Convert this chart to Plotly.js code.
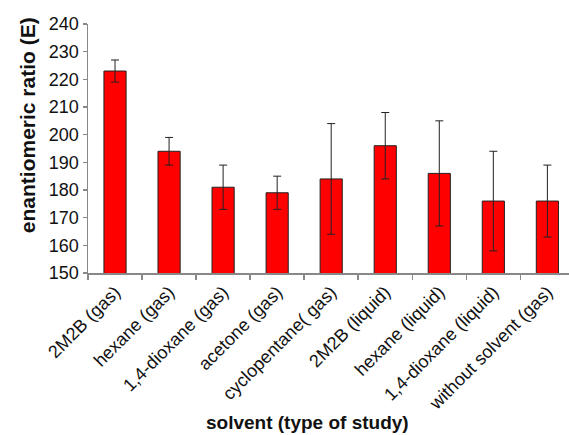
<!DOCTYPE html>
<html>
<head>
<meta charset="utf-8">
<script src="https://cdn.plot.ly/plotly-3.0.1.min.js"></script>
<style>html,body{margin:0;padding:0;background:#fff;}#chart{width:569px;height:435px;}</style>
</head>
<body>
<div id="chart"></div>
<script>
const categories = ["2M2B (gas)", "hexane (gas)", "1,4-dioxane (gas)", "acetone (gas)", "cyclopentane( gas)", "2M2B (liquid)", "hexane (liquid)", "1,4-dioxane (liquid)", "without solvent (gas)"];
const ratioValues = [223, 194, 181, 179, 184, 196, 186, 176, 176];
const ratioErrors = [4, 5, 8, 6, 20, 12, 19, 18, 13];
const yTicks = [150, 160, 170, 180, 190, 200, 210, 220, 230, 240];

const font = "Liberation Sans, Arial, Helvetica, sans-serif";

const trace = {
  type: "bar",
  x: categories,
  y: ratioValues,
  width: 0.41,
  marker: {color: "#ff0000", line: {color: "#222", width: 1}},
  error_y: {type: "data", array: ratioErrors, visible: true, color: "#222", thickness: 1, width: 4}
};

const layout = {
  width: 569, height: 435,
  margin: {l: 88, r: 0, t: 24, b: 162},
  paper_bgcolor: "#fff", plot_bgcolor: "#fff",
  showlegend: false,
  font: {family: font, color: "#111"},
  xaxis: {
    type: "category",
    range: [-0.5, 8.4],
    tickangle: -45,
    tickfont: {size: 18, family: font, color: "#111"},
    ticks: "outside", ticklen: 5, tickcolor: "#888", tickwidth: 1.5,
    tickson: "boundaries",
    showline: true, linecolor: "#888", linewidth: 1.5,
    showgrid: false, zeroline: false
  },
  yaxis: {
    range: [150, 240],
    tickvals: yTicks,
    ticktext: yTicks.map(String),
    tickfont: {size: 18, family: font, color: "#111"},
    ticks: "outside", ticklen: 4, tickcolor: "#888", tickwidth: 1.5,
    showline: true, linecolor: "#888", linewidth: 1.5,
    showgrid: false, zeroline: false
  },
  annotations: [
    {text: "<b>enantiomeric ratio (E)</b>", xref: "paper", yref: "paper", x: -0.127, y: 1.035, yanchor: "top", xanchor: "center",
     textangle: -90, showarrow: false, font: {size: 21, family: font, color: "#111"}},
    {text: "<b>solvent (type of study)</b>", xref: "paper", yref: "paper", x: 0.241, y: -0.6, xanchor: "left", yanchor: "middle",
     showarrow: false, font: {size: 19, family: font, color: "#111"}}
  ]
};

Plotly.newPlot("chart", [trace], layout, {displayModeBar: false, staticPlot: true});
</script>
</body>
</html>
